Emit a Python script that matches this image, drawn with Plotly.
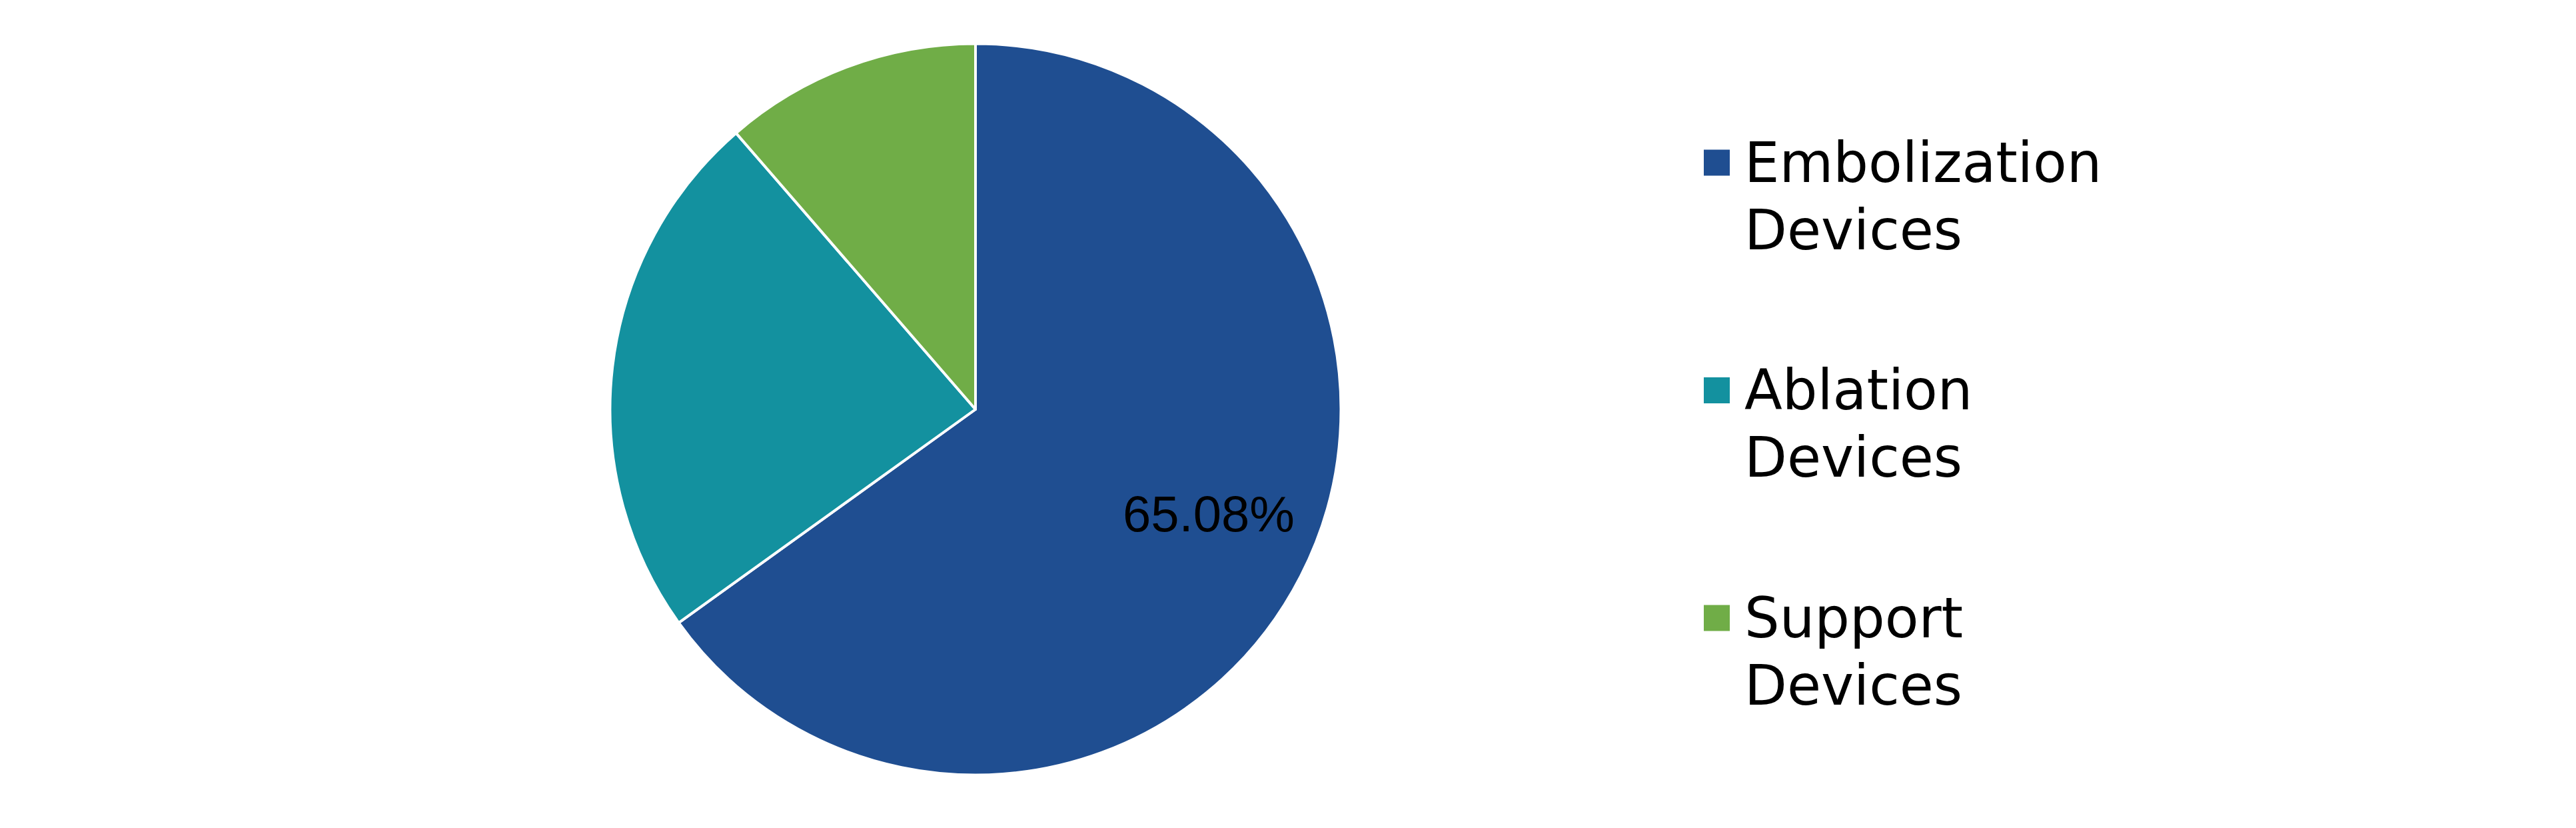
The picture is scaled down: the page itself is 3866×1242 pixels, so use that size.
import numpy as np
import plotly.graph_objects as go

# market share by product type
labels = ["Embolization Devices", "Ablation Devices", "Support Devices"]
legend_text = ["Embolization<br>Devices", "Ablation<br>Devices", "Support<br>Devices"]
shares = [65.08, 23.55, 11.37]
colors = ["#1F4E91", "#13919F", "#70AD47"]
# only the largest slice carries a label in the original
show_label = [True, False, False]

W, H = 3866, 1242
OFF = 8  # page body margin of the html template

# pie geometry in screen px (centre and radius)
cx, cy, R = 1464 - OFF, 614 - OFF, 548.5

fig = go.Figure()
fig.add_trace(go.Pie(
    labels=labels,
    values=shares,
    sort=False,
    direction="clockwise",
    rotation=0,
    marker=dict(colors=colors, line=dict(color="white", width=4)),
    textinfo="none",
    hoverinfo="label+percent",
    showlegend=False,
    domain=dict(x=[(cx - 700) / W, (cx + 700) / W],
                y=[1 - (cy + R) / H, 1 - (cy - R) / H]),
))

# percent labels sit further out than plotly's inside text, so place them
# a bit before each slice's middle angle, like the original
total = sum(shares)
start = 0.0
for share, show in zip(shares, show_label):
    mid = 2 * np.pi * (start + share * 0.487) / total
    start += share
    if not show:
        continue
    lx = cx + 0.70 * R * np.sin(mid)
    ly = cy - 0.70 * R * np.cos(mid)
    fig.add_annotation(text=f"{share / total * 100:.2f}%",
                       xref="paper", yref="paper", x=lx / W, y=1 - ly / H,
                       xanchor="center", yanchor="middle", showarrow=False,
                       font=dict(family="Liberation Sans, Arial", size=76, color="black"))

# legend drawn by hand so the swatches can be as big as in the original
leg_size = 83
base_y = 273 - OFF   # baseline of first legend item
pitch = 341.5        # px between items
line_gap = 101       # px between the two lines of an item
for i, (txt, col) in enumerate(zip(legend_text, colors)):
    baseline = base_y + i * pitch
    mid = baseline - 29
    fig.add_shape(type="rect", xref="paper", yref="paper",
                  x0=(2557 - OFF) / W, x1=(2596 - OFF) / W,
                  y0=1 - (mid + 19.5) / H, y1=1 - (mid - 19.5) / H,
                  fillcolor=col, line=dict(width=0))
    for j, line in enumerate(txt.split("<br>")):
        b = baseline + j * line_gap
        fig.add_annotation(text=line, xref="paper", yref="paper",
                           x=(2616 - OFF) / W, y=1 - (b - 0.346 * leg_size) / H,
                           xanchor="left", yanchor="middle", align="left",
                           showarrow=False,
                           font=dict(family="DejaVu Sans", size=leg_size, color="black"))

fig.update_layout(
    width=W, height=H,
    margin=dict(l=0, r=0, t=0, b=0),
    paper_bgcolor="white",
    plot_bgcolor="white",
)

fig.write_html("out.html")
